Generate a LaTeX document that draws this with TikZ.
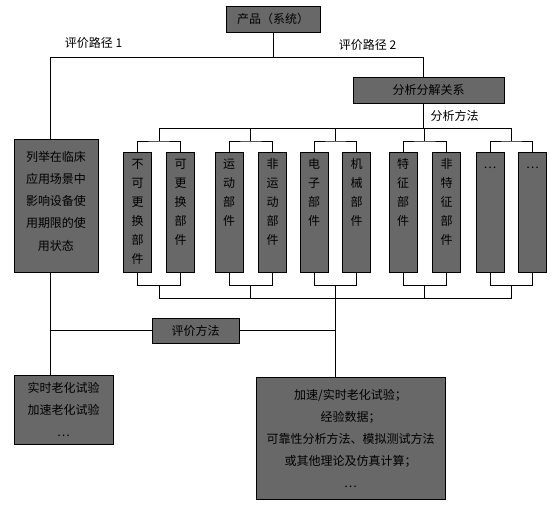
\documentclass[tikz,border=0pt]{standalone}
\usepackage{fontspec}
\setmainfont{Noto Sans CJK SC}
\usepackage{tikz}
\usetikzlibrary{positioning, calc}
\definecolor{boxgray}{RGB}{104,104,104}

\begin{document}
\begin{tikzpicture}[
      x=1pt, y=-1pt,
      font=\fontsize{12pt}{22pt}\selectfont,
      line width=0.9pt,
      box/.style={rectangle, draw=black, fill=boxgray, inner sep=0pt, align=center},
      part/.style={box, anchor=north, text width=28pt, text height=15.6pt, text depth=104.4pt, font=\fontsize{12pt}{19pt}\selectfont},
      lbl/.style={inner sep=0pt}
    ]
    \useasboundingbox (0,0) rectangle (552,510);

    % 第一层：产品
    \node[box, minimum width=94pt, minimum height=26pt] (prod) at (273,19) {产品（系统）};
    \node[lbl] (path1) at (93.5,43) {评价路径 1};
    \node[lbl] (path2) at (367.5,45) {评价路径 2};

    % 评价路径 1
    \node[box, anchor=north, text width=84pt, text height=21.6pt, text depth=111.4pt, font=\fontsize{12pt}{22.3pt}\selectfont] (usage) at (56,139) {列举在临床\\应用场景中\\影响设备使\\用期限的使\\用状态};

    % 评价路径 2
    \node[box, minimum width=151pt, minimum height=26pt] (analysis) at (428.5,90) {分析分解关系};
    \node[lbl] (amethod) at (454.5,116) {分析方法};

    % 部件
    \node[part] (p1) at (137.5,152) {不\\可\\更\\换\\部\\件};
    \node[part] (p2) at (180.5,152) {可\\更\\换\\部\\件};
    \node[part] (p3) at (229,152) {运\\动\\部\\件};
    \node[part] (p4) at (272.5,152) {非\\运\\动\\部\\件};
    \node[part] (p5) at (314,152) {电\\子\\部\\件};
    \node[part] (p6) at (356.5,152) {机\\械\\部\\件};
    \node[part] (p7) at (403,152) {特\\征\\部\\件};
    \node[part] (p8) at (446.5,152) {非\\特\\征\\部\\件};
    \node[part] (p9) at (490,152) {…};
    \node[part] (p10) at (532.5,152) {…};

    % 评价方法
    \node[box, minimum width=87pt, minimum height=25pt] (method) at (195.5,330.5) {评价方法};
    \node[box, minimum width=99pt, minimum height=69pt] (aging) at (63.5,409.5) {实时老化试验\\加速老化试验\\…};
    \node[box, minimum width=189pt, minimum height=122pt] (tests) at (350.5,438) {加速/实时老化试验；\\经验数据；\\可靠性分析方法、模拟测试方法\\或其他理论及仿真计算；\\…};

    % 分叉点
    \coordinate (forkL) at (50,57);
    \coordinate (forkR) at (423,57);
    \coordinate (busT) at (423,128);
    \coordinate (busB) at (335,298);
    \coordinate (u1) at ($(p1.north)!.5!(p2.north)+(0,-11)$);
    \coordinate (u2) at ($(p3.north)!.5!(p4.north)+(0,-11)$);
    \coordinate (u3) at ($(p5.north)!.5!(p6.north)+(0,-11)$);
    \coordinate (u4) at ($(p7.north)!.5!(p8.north)+(0,-11)$);
    \coordinate (u5) at ($(p9.north)!.5!(p10.north)+(0,-11)$);
    \coordinate (d1) at ($(p1.south)!.5!(p2.south)+(0,13)$);
    \coordinate (d2) at ($(p3.south)!.5!(p4.south)+(0,13)$);
    \coordinate (d3) at ($(p5.south)!.5!(p6.south)+(0,13)$);
    \coordinate (d4) at ($(p7.south)!.5!(p8.south)+(0,13)$);
    \coordinate (d5) at ($(p9.south)!.5!(p10.south)+(0,13)$);

    % 上部连线
    \draw (prod.south) -- (prod.south |- forkL);
    \draw (forkL |- usage.north) |- (forkR) -- (forkR |- analysis.north);
    \draw (busT |- analysis.south) -- (busT);
    \draw (u1) |- (busT);
    \draw (u5) |- (busT);
    \draw (u2) -- (u2 |- busT);
    \draw (u3) -- (u3 |- busT);
    \draw (u4) -- (u4 |- busT);
    \draw (p1.north) |- (u1) -| (p2.north);
    \draw (p3.north) |- (u2) -| (p4.north);
    \draw (p5.north) |- (u3) -| (p6.north);
    \draw (p7.north) |- (u4) -| (p8.north);
    \draw (p9.north) |- (u5) -| (p10.north);

    % 下部连线
    \draw (p1.south) |- (d1) -| (p2.south);
    \draw (p3.south) |- (d2) -| (p4.south);
    \draw (p5.south) |- (d3) -| (p6.south);
    \draw (p7.south) |- (d4) -| (p8.south);
    \draw (p9.south) |- (d5) -| (p10.south);
    \draw (d1) |- (busB);
    \draw (d5) |- (busB);
    \draw (d2) -- (d2 |- busB);
    \draw (d3) -- (d3 |- busB);
    \draw (d4) -- (d4 |- busB);
    \draw (busB) -- (busB |- tests.north);
    \draw (forkL |- usage.south) -- (forkL |- aging.north);
    \draw (forkL |- method.west) -- (method.west);
    \draw (method.east) -- (busB |- method.east);

    \end{tikzpicture}
\end{document}
